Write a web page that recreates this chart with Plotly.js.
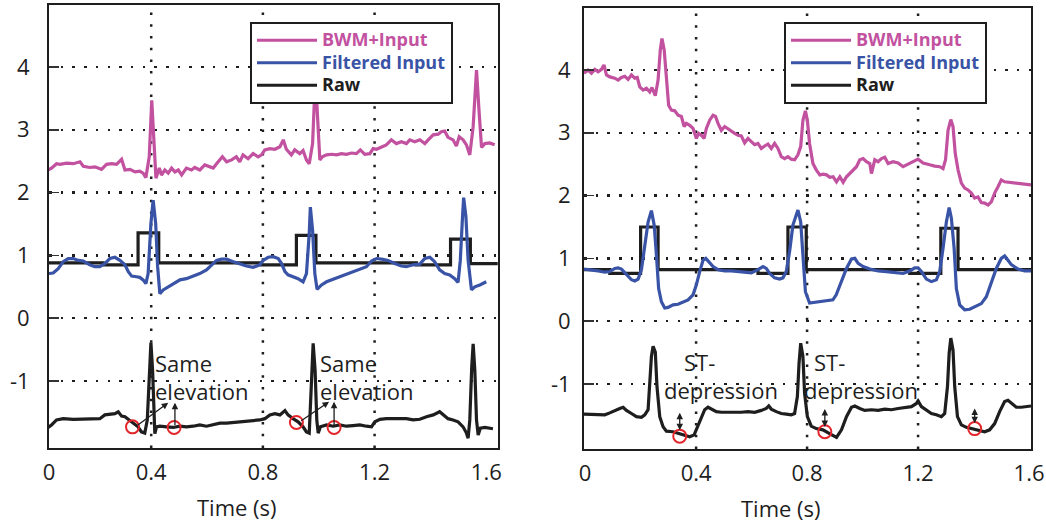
<!DOCTYPE html>
<html><head><meta charset="utf-8">
<script src="https://cdn.plot.ly/plotly-3.0.1.min.js"></script>
<style>html,body{margin:0;padding:0;background:#fff;} #chart{width:1046px;height:523px;}</style>
</head><body><div id="chart"></div>
<script>
// ---------- data: [time (s), value] ----------
const L_bwm = [[0.031,2.36],[0.043,2.39],[0.061,2.46],[0.073,2.45],[0.097,2.47],[0.121,2.46],[0.145,2.49],[0.157,2.42],[0.180,2.40],[0.198,2.41],[0.222,2.37],[0.240,2.45],[0.258,2.46],[0.276,2.45],[0.294,2.53],[0.306,2.36],[0.324,2.37],[0.342,2.33],[0.359,2.34],[0.371,2.31],[0.381,2.24],[0.393,2.57],[0.402,3.47],[0.411,2.78],[0.417,2.23],[0.429,2.39],[0.437,2.28],[0.449,2.36],[0.461,2.31],[0.473,2.39],[0.485,2.33],[0.497,2.36],[0.509,2.28],[0.526,2.39],[0.544,2.36],[0.556,2.40],[0.574,2.36],[0.592,2.44],[0.610,2.41],[0.622,2.39],[0.640,2.49],[0.655,2.57],[0.670,2.49],[0.688,2.52],[0.705,2.57],[0.717,2.49],[0.729,2.60],[0.747,2.54],[0.765,2.62],[0.783,2.57],[0.795,2.60],[0.807,2.68],[0.825,2.70],[0.843,2.69],[0.861,2.73],[0.873,2.84],[0.884,2.69],[0.902,2.60],[0.914,2.68],[0.932,2.62],[0.944,2.67],[0.956,2.52],[0.966,2.46],[0.978,2.78],[0.988,3.85],[0.998,3.05],[1.004,2.52],[1.013,2.57],[1.028,2.60],[1.046,2.61],[1.064,2.60],[1.081,2.62],[1.099,2.61],[1.117,2.63],[1.135,2.62],[1.149,2.68],[1.165,2.61],[1.183,2.62],[1.195,2.70],[1.207,2.69],[1.225,2.73],[1.242,2.76],[1.260,2.84],[1.278,2.78],[1.296,2.81],[1.314,2.78],[1.326,2.84],[1.344,2.81],[1.362,2.84],[1.380,2.78],[1.392,2.84],[1.410,2.92],[1.428,2.93],[1.439,2.97],[1.451,2.98],[1.463,2.88],[1.481,2.84],[1.493,2.74],[1.503,2.89],[1.517,2.84],[1.529,2.76],[1.541,2.60],[1.553,3.05],[1.565,3.95],[1.574,3.31],[1.583,2.72],[1.595,2.78],[1.612,2.79],[1.630,2.76]];
const L_filt = [[0.031,0.71],[0.049,0.72],[0.067,0.79],[0.085,0.90],[0.103,0.95],[0.121,0.95],[0.139,0.92],[0.157,0.91],[0.180,0.85],[0.198,0.82],[0.216,0.82],[0.234,0.87],[0.252,0.95],[0.270,0.97],[0.288,0.92],[0.306,0.85],[0.318,0.74],[0.330,0.67],[0.347,0.66],[0.359,0.65],[0.371,0.61],[0.381,0.55],[0.389,0.71],[0.399,1.51],[0.407,1.88],[0.416,1.51],[0.423,0.82],[0.431,0.39],[0.443,0.45],[0.461,0.50],[0.479,0.55],[0.503,0.61],[0.526,0.63],[0.550,0.67],[0.574,0.71],[0.598,0.77],[0.616,0.85],[0.634,0.92],[0.652,0.94],[0.670,0.94],[0.694,0.90],[0.717,0.86],[0.741,0.83],[0.765,0.81],[0.789,0.85],[0.801,0.92],[0.819,0.97],[0.837,0.98],[0.855,0.95],[0.867,0.87],[0.879,0.74],[0.890,0.69],[0.908,0.66],[0.926,0.63],[0.944,0.58],[0.956,0.71],[0.966,1.35],[0.970,1.77],[0.978,1.40],[0.986,0.71],[0.994,0.46],[1.010,0.53],[1.028,0.58],[1.052,0.62],[1.075,0.66],[1.099,0.69],[1.123,0.74],[1.147,0.77],[1.171,0.82],[1.189,0.91],[1.207,0.95],[1.225,0.94],[1.248,0.92],[1.272,0.87],[1.296,0.83],[1.314,0.82],[1.338,0.85],[1.362,0.86],[1.380,0.95],[1.398,0.97],[1.415,0.90],[1.433,0.77],[1.451,0.71],[1.469,0.69],[1.487,0.63],[1.499,0.57],[1.507,0.92],[1.515,1.62],[1.519,1.92],[1.527,1.62],[1.535,0.92],[1.547,0.45],[1.559,0.50],[1.577,0.53],[1.600,0.58]];
const L_qrs = [[0.034,0.88],[0.228,0.85],[0.353,1.36],[0.427,0.88],[0.795,0.85],[0.920,1.32],[0.990,0.88],[1.350,0.85],[1.472,1.26],[1.543,0.87],[1.641,0.87]];
const L_raw = [[0.031,-1.74],[0.043,-1.70],[0.061,-1.62],[0.085,-1.60],[0.121,-1.61],[0.157,-1.61],[0.192,-1.61],[0.216,-1.60],[0.234,-1.54],[0.252,-1.53],[0.270,-1.52],[0.282,-1.49],[0.294,-1.56],[0.306,-1.57],[0.321,-1.62],[0.336,-1.67],[0.353,-1.73],[0.365,-1.81],[0.377,-1.83],[0.386,-1.62],[0.393,-0.83],[0.399,-0.39],[0.405,-0.83],[0.410,-1.62],[0.413,-1.84],[0.419,-1.73],[0.431,-1.72],[0.455,-1.73],[0.479,-1.74],[0.503,-1.72],[0.526,-1.73],[0.550,-1.72],[0.574,-1.70],[0.598,-1.72],[0.622,-1.70],[0.646,-1.67],[0.670,-1.67],[0.694,-1.66],[0.717,-1.66],[0.741,-1.65],[0.765,-1.63],[0.789,-1.62],[0.807,-1.60],[0.825,-1.54],[0.843,-1.52],[0.861,-1.54],[0.879,-1.47],[0.890,-1.54],[0.908,-1.60],[0.926,-1.65],[0.944,-1.73],[0.956,-1.81],[0.966,-1.83],[0.974,-0.83],[0.980,-0.40],[0.987,-0.83],[0.993,-1.62],[0.998,-1.83],[1.006,-1.73],[1.028,-1.70],[1.052,-1.72],[1.075,-1.70],[1.099,-1.72],[1.123,-1.71],[1.147,-1.70],[1.171,-1.72],[1.189,-1.73],[1.201,-1.65],[1.219,-1.61],[1.242,-1.60],[1.266,-1.60],[1.290,-1.61],[1.314,-1.60],[1.338,-1.62],[1.362,-1.61],[1.386,-1.57],[1.410,-1.54],[1.433,-1.49],[1.445,-1.53],[1.463,-1.60],[1.481,-1.62],[1.499,-1.65],[1.517,-1.73],[1.529,-1.83],[1.535,-1.91],[1.541,-1.62],[1.548,-0.77],[1.553,-0.41],[1.559,-0.83],[1.565,-1.62],[1.571,-1.86],[1.579,-1.75],[1.595,-1.74],[1.612,-1.75],[1.624,-1.76]];
const L_marks = [[0.333,-1.73],[0.482,-1.74],[0.920,-1.66],[1.055,-1.74]];
// arrows: [from, to]
const L_arrows = [[[0.347,-1.72],[0.461,-1.345]],[[0.485,-1.73],[0.485,-1.345]],[[0.932,-1.65],[1.037,-1.33]],[[1.055,-1.73],[1.055,-1.33]]];

const R_bwm = [[-0.004,3.95],[0.011,4.00],[0.023,3.95],[0.035,4.01],[0.047,3.97],[0.059,4.01],[0.068,4.08],[0.077,3.92],[0.089,3.89],[0.107,3.87],[0.119,3.84],[0.131,3.88],[0.143,3.90],[0.155,3.85],[0.167,3.92],[0.179,3.87],[0.188,3.88],[0.197,3.73],[0.209,3.68],[0.221,3.71],[0.233,3.65],[0.241,3.72],[0.253,3.59],[0.263,3.84],[0.271,4.32],[0.277,4.50],[0.285,4.32],[0.293,3.84],[0.301,3.44],[0.311,3.36],[0.323,3.35],[0.335,3.28],[0.347,3.26],[0.357,3.10],[0.365,3.15],[0.377,3.12],[0.389,3.07],[0.401,2.91],[0.409,2.99],[0.419,2.96],[0.429,2.91],[0.437,3.07],[0.449,3.20],[0.461,3.28],[0.470,3.26],[0.479,3.15],[0.491,3.04],[0.503,3.10],[0.515,3.06],[0.527,3.02],[0.539,2.99],[0.551,2.96],[0.563,2.95],[0.575,2.84],[0.587,2.91],[0.599,2.86],[0.611,2.81],[0.623,2.83],[0.635,2.75],[0.647,2.79],[0.659,2.82],[0.671,2.75],[0.683,2.83],[0.695,2.75],[0.707,2.62],[0.719,2.59],[0.731,2.62],[0.743,2.58],[0.755,2.57],[0.767,2.65],[0.777,2.78],[0.785,3.20],[0.794,3.35],[0.801,3.20],[0.809,2.83],[0.821,2.51],[0.833,2.41],[0.846,2.33],[0.858,2.34],[0.870,2.33],[0.882,2.29],[0.894,2.30],[0.906,2.22],[0.918,2.30],[0.930,2.21],[0.942,2.30],[0.954,2.35],[0.966,2.41],[0.978,2.46],[0.990,2.57],[1.002,2.59],[1.014,2.54],[1.026,2.51],[1.032,2.35],[1.044,2.57],[1.056,2.54],[1.068,2.59],[1.080,2.61],[1.092,2.51],[1.110,2.54],[1.128,2.52],[1.146,2.46],[1.164,2.50],[1.182,2.54],[1.200,2.58],[1.218,2.52],[1.230,2.51],[1.242,2.49],[1.260,2.47],[1.278,2.46],[1.290,2.43],[1.299,2.57],[1.308,3.04],[1.318,3.21],[1.326,3.10],[1.334,2.67],[1.344,2.41],[1.356,2.20],[1.368,2.12],[1.380,2.09],[1.392,2.04],[1.404,1.96],[1.416,1.98],[1.428,1.89],[1.440,1.88],[1.452,1.85],[1.464,1.90],[1.476,2.04],[1.488,2.14],[1.500,2.25],[1.512,2.22],[1.530,2.21],[1.548,2.20],[1.566,2.20],[1.584,2.18],[1.607,2.17]];
const R_filt = [[-0.004,0.83],[0.023,0.82],[0.047,0.80],[0.071,0.78],[0.089,0.79],[0.107,0.84],[0.119,0.85],[0.131,0.83],[0.149,0.74],[0.167,0.66],[0.179,0.64],[0.191,0.67],[0.203,0.82],[0.215,1.21],[0.227,1.58],[0.239,1.76],[0.249,1.53],[0.257,1.05],[0.265,0.52],[0.275,0.31],[0.287,0.21],[0.299,0.22],[0.317,0.26],[0.335,0.27],[0.353,0.30],[0.371,0.34],[0.389,0.42],[0.401,0.58],[0.413,0.79],[0.425,0.97],[0.435,1.00],[0.446,0.95],[0.461,0.87],[0.479,0.82],[0.503,0.80],[0.527,0.80],[0.551,0.79],[0.575,0.78],[0.599,0.77],[0.623,0.82],[0.641,0.87],[0.653,0.84],[0.665,0.76],[0.683,0.69],[0.701,0.67],[0.713,0.69],[0.725,0.79],[0.737,1.11],[0.749,1.53],[0.767,1.77],[0.777,1.58],[0.785,1.05],[0.794,0.47],[0.809,0.29],[0.827,0.30],[0.851,0.31],[0.875,0.32],[0.893,0.34],[0.905,0.42],[0.923,0.63],[0.942,0.84],[0.960,0.99],[0.972,1.00],[0.984,0.92],[1.002,0.87],[1.026,0.83],[1.056,0.80],[1.086,0.79],[1.116,0.78],[1.146,0.76],[1.170,0.80],[1.188,0.85],[1.200,0.85],[1.212,0.79],[1.230,0.67],[1.248,0.63],[1.266,0.66],[1.278,0.79],[1.290,1.16],[1.302,1.58],[1.312,1.81],[1.320,1.64],[1.330,1.16],[1.338,0.52],[1.350,0.26],[1.368,0.18],[1.386,0.19],[1.404,0.23],[1.428,0.28],[1.446,0.39],[1.464,0.60],[1.482,0.84],[1.500,1.00],[1.512,1.04],[1.524,0.97],[1.536,0.90],[1.560,0.83],[1.584,0.80],[1.607,0.80]];
const R_qrs = [[-0.004,0.82],[0.089,0.76],[0.200,1.50],[0.263,0.82],[0.623,0.76],[0.731,1.50],[0.797,0.82],[1.170,0.76],[1.282,1.48],[1.344,0.82],[1.607,0.82]];
const R_raw = [[-0.004,-1.48],[0.023,-1.48],[0.047,-1.48],[0.071,-1.49],[0.089,-1.46],[0.107,-1.42],[0.125,-1.39],[0.137,-1.37],[0.149,-1.42],[0.167,-1.47],[0.185,-1.52],[0.203,-1.53],[0.215,-1.49],[0.227,-1.41],[0.233,-1.04],[0.239,-0.56],[0.245,-0.40],[0.253,-0.49],[0.259,-1.04],[0.269,-1.52],[0.281,-1.68],[0.293,-1.75],[0.317,-1.76],[0.341,-1.79],[0.359,-1.81],[0.377,-1.84],[0.393,-1.81],[0.405,-1.68],[0.419,-1.52],[0.431,-1.41],[0.443,-1.37],[0.455,-1.40],[0.473,-1.44],[0.491,-1.45],[0.515,-1.45],[0.539,-1.46],[0.563,-1.45],[0.587,-1.44],[0.611,-1.45],[0.635,-1.42],[0.653,-1.39],[0.662,-1.35],[0.671,-1.40],[0.689,-1.44],[0.707,-1.47],[0.725,-1.48],[0.743,-1.49],[0.755,-1.47],[0.765,-1.20],[0.771,-0.67],[0.777,-0.35],[0.785,-0.56],[0.791,-1.15],[0.801,-1.52],[0.815,-1.67],[0.833,-1.71],[0.857,-1.73],[0.881,-1.79],[0.906,-1.85],[0.924,-1.73],[0.942,-1.52],[0.960,-1.37],[0.972,-1.35],[0.990,-1.39],[1.008,-1.42],[1.032,-1.41],[1.056,-1.42],[1.080,-1.40],[1.104,-1.41],[1.128,-1.39],[1.152,-1.37],[1.176,-1.36],[1.194,-1.31],[1.200,-1.27],[1.212,-1.36],[1.230,-1.42],[1.248,-1.47],[1.266,-1.49],[1.284,-1.52],[1.296,-1.47],[1.306,-1.04],[1.312,-0.51],[1.318,-0.27],[1.326,-0.46],[1.332,-1.04],[1.342,-1.52],[1.356,-1.65],[1.374,-1.69],[1.392,-1.71],[1.416,-1.73],[1.440,-1.76],[1.458,-1.73],[1.476,-1.63],[1.494,-1.44],[1.512,-1.28],[1.524,-1.26],[1.536,-1.31],[1.554,-1.37],[1.572,-1.37],[1.590,-1.36],[1.607,-1.35]];
const R_marks = [[0.341,-1.83],[0.864,-1.76],[1.404,-1.71]];
const R_arrows = [[[0.341,-1.76],[0.341,-1.457]],[[0.864,-1.71],[0.864,-1.40]],[[1.404,-1.65],[1.404,-1.39]]];

const xTickVals = [0, 0.4, 0.8, 1.2, 1.6];
const xTickText = ['0', '0.4', '0.8', '1.2', '1.6'];
const yTickVals = [-1, 0, 1, 2, 3, 4];
const yTickText = ['-1', '0', '1', '2', '3', '4'];
const gridX = [0.4, 0.8, 1.2];
const L_notes = [['Same', 0.408, -0.72], ['elevation', 0.408, -1.154], ['Same', 0.996, -0.72], ['elevation', 0.996, -1.154]];
const R_notes = [['ST-', 0.349, -0.645], ['depression', 0.277, -1.096], ['ST-', 0.818, -0.645], ['depression', 0.781, -1.096]];
const seriesNames = ['BWM+Input', 'Filtered Input', 'Raw'];

// ---------- style ----------
const PINK = '#c2519f', BLUE = '#3953a6', BLACK = '#1e1e1e', RED = '#e3262b';
const FONT = '"Open Sans", "Noto Sans", sans-serif';
const xs = p => p.map(d => d[0]);
const ys = p => p.map(d => d[1]);
const legName = (c, t) => '<span style="color:' + c + ';font-size:18px">' + t + '</span>';

function panel(bwm, filt, qrs, raw, marks, xa, ya, leg) {
  return [
    {x: xs(qrs), y: ys(qrs), xaxis: xa, yaxis: ya, mode: 'lines', line: {color: BLACK, width: 3.2, shape: 'hv'}, showlegend: false, name: 'QRS', hoverinfo: 'skip'},
    {x: xs(filt), y: ys(filt), xaxis: xa, yaxis: ya, mode: 'lines', line: {color: BLUE, width: 3.2}, legend: leg, legendrank: 2,
     name: legName(BLUE, seriesNames[1])},
    {x: xs(bwm), y: ys(bwm), xaxis: xa, yaxis: ya, mode: 'lines', line: {color: PINK, width: 3.2}, legend: leg, legendrank: 1,
     name: legName(PINK, seriesNames[0])},
    {x: xs(raw), y: ys(raw), xaxis: xa, yaxis: ya, mode: 'lines', line: {color: BLACK, width: 3.2}, legend: leg, legendrank: 3,
     name: legName(BLACK, seriesNames[2])},
    {x: xs(marks), y: ys(marks), xaxis: xa, yaxis: ya, mode: 'markers', showlegend: false, hoverinfo: 'skip',
     marker: {symbol: 'circle-open', size: 13, color: RED, line: {color: RED, width: 2}}}
  ];
}

const traces = panel(L_bwm, L_filt, L_qrs, L_raw, L_marks, 'x', 'y', 'legend')
  .concat(panel(R_bwm, R_filt, R_qrs, R_raw, R_marks, 'x2', 'y2', 'legend2'));

const gridLine = {color: BLACK, width: 2.5, dash: '2.5px,9.2px'};
const shapes = [];
[['x', 'y'], ['x2', 'y2']].forEach(([xa, ya]) => gridX.forEach(g => shapes.push({
  type: 'line', xref: xa, yref: ya + ' domain', x0: g, x1: g, y0: 0, y1: 1, line: gridLine, layer: 'below'})));

const annotations = [];
function addNotes(notes, xa, ya) {
  notes.forEach(([t, x, y]) => annotations.push({text: t, x: x, y: y, xref: xa, yref: ya, xanchor: 'left', yanchor: 'middle',
    showarrow: false, font: {family: FONT, size: 22, color: BLACK}}));
}
function addArrows(arr, xa, ya, both) {
  arr.forEach(([f, t]) => annotations.push({text: '', x: t[0], y: t[1], ax: f[0], ay: f[1], xref: xa, yref: ya, axref: xa, ayref: ya,
    showarrow: true, arrowhead: 2, arrowsize: 1, arrowwidth: 1.3, arrowcolor: BLACK, standoff: 0, startstandoff: 0,
    arrowside: both ? 'end+start' : 'end', startarrowhead: 2, startarrowsize: 1}));
}
addNotes(L_notes, 'x', 'y'); addNotes(R_notes, 'x2', 'y2');
addArrows(L_arrows, 'x', 'y', false); addArrows(R_arrows, 'x2', 'y2', true);
annotations.push({text: 'Time (s)', x: 237 / 1046, y: 1 - 507 / 523, xref: 'paper', yref: 'paper', showarrow: false,
  xanchor: 'center', yanchor: 'middle', font: {family: FONT, size: 22, color: BLACK}});
annotations.push({text: 'Time (s)', x: 781 / 1046, y: 1 - 508 / 523, xref: 'paper', yref: 'paper', showarrow: false,
  xanchor: 'center', yanchor: 'middle', font: {family: FONT, size: 22, color: BLACK}});

const tickFont = {family: FONT, size: 22, color: BLACK};
function xAxis(domain, range, tv, standoff, anchor) {
  return {domain: domain, range: range, tickvals: tv, ticktext: xTickText, showgrid: false, zeroline: false,
    showline: true, mirror: true, linecolor: BLACK, linewidth: 2, ticks: '', tickfont: tickFont,
    ticklabelstandoff: standoff, anchor: anchor, fixedrange: true};
}
function yAxis(domain, range, standoff, anchor) {
  return {domain: domain, range: range, tickvals: yTickVals, ticktext: yTickText, showgrid: true, gridcolor: BLACK,
    gridwidth: 2.5, griddash: '2.5px,9.2px', zeroline: false, showline: true, mirror: true, linecolor: BLACK, linewidth: 2,
    ticks: 'inside', ticklen: 10, tickwidth: 1.5, tickcolor: '#333', tickfont: tickFont, ticklabelstandoff: standoff,
    anchor: anchor, fixedrange: true};
}
const legendStyle = (x) => ({x: x, y: 1 - 22 / 523, xanchor: 'left', yanchor: 'top', bgcolor: '#ffffff', bordercolor: BLACK,
  borderwidth: 2, font: {family: FONT, size: 15, weight: 'bold', color: BLACK}, itemwidth: 60, tracegroupgap: 0,
  entrywidth: 205, entrywidthmode: 'pixels'});

const layout = {
  width: 1046, height: 523, margin: {l: 0, r: 0, t: 0, b: 0}, paper_bgcolor: '#fff', plot_bgcolor: '#fff',
  showlegend: true,
  xaxis: xAxis([49 / 1046, 498 / 1046], [0.034, 1.642], [0.034, 0.4, 0.8, 1.2, 1.6], 4, 'y'),
  yaxis: yAxis([1 - 448 / 523, 1 - 5 / 523], [-2.067, 4.987], 13, 'x'),
  xaxis2: xAxis([584 / 1046, 1031 / 1046], [-0.004, 1.607], xTickVals, 4, 'y2'),
  yaxis2: yAxis([1 - 449 / 523, 1 - 8 / 523], [-2.035, 4.987], 7, 'x2'),
  legend: legendStyle(250 / 1046),
  legend2: legendStyle(784 / 1046),
  shapes: shapes, annotations: annotations
};
Plotly.newPlot('chart', traces, layout, {displayModeBar: false, staticPlot: true});
</script></body></html>
